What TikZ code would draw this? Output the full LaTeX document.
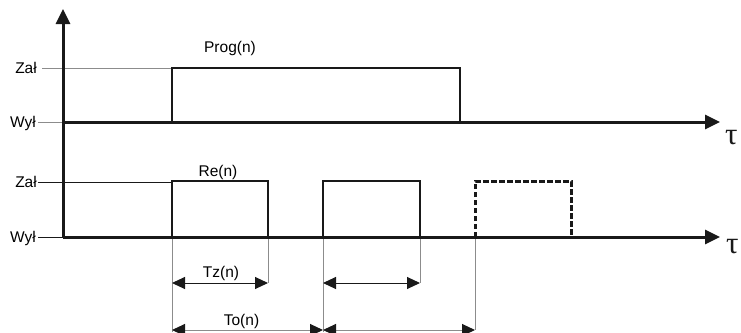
\documentclass[tikz,border=0pt]{standalone}
\usepackage{fontspec}
\setmainfont{Liberation Sans}
\newfontfamily\taufont{Liberation Serif}
\usetikzlibrary{arrows.meta}
\begin{document}
\begin{tikzpicture}[x=1pt,y=-1pt,
  axis/.style={line width=3pt,draw=black!90,-{Triangle[length=15pt,width=14pt]}},
  sig/.style={line width=2pt,draw=black!90},
  dsig/.style={line width=3pt,draw=black!90,dash pattern=on 5.5pt off 2.5pt},
  grayline/.style={line width=1pt,draw=black!45},
  blackline/.style={line width=1pt,draw=black!90},
  dimz/.style={line width=1pt,draw=black!90,{Triangle[length=13pt,width=12pt,color=black!90]}-{Triangle[length=13pt,width=12pt,color=black!90]}},
  dimo/.style={line width=1pt,draw=black!45,{Triangle[length=13pt,width=12pt,color=black!90]}-{Triangle[length=13pt,width=12pt,color=black!90]}},
  lbl/.style={inner sep=0pt,font=\fontsize{15.5}{18}\selectfont,text=black},
  taul/.style={inner sep=0pt,font=\taufont\fontsize{31}{31}\selectfont,text=black!90}
]
\useasboundingbox (0,0) rectangle (741,332);

% key points
\coordinate (top) at (63,9);
\coordinate (o1) at (63,122);
\coordinate (e1) at (720,122);
\coordinate (o2) at (63,237);
\coordinate (e2) at (720,237);

% tick line starts
\coordinate (zu) at (42,68);
\coordinate (wu) at (38,122);
\coordinate (zl) at (38,182);
\coordinate (wl) at (38,237);

% Prog box
\coordinate (p1) at (172,122);
\coordinate (p2) at (172,68);
\coordinate (p3) at (460,68);
\coordinate (p4) at (460,122);

% Re boxes
\coordinate (a1) at (172,237); \coordinate (a2) at (172,181);
\coordinate (a3) at (268,181); \coordinate (a4) at (268,237);
\coordinate (b1) at (323,237); \coordinate (b2) at (323,181);
\coordinate (b3) at (420,181); \coordinate (b4) at (420,237);
\coordinate (c1) at (475,237); \coordinate (c2) at (475,181);
\coordinate (c3) at (571,181); \coordinate (c4) at (571,237);

% extension line ends
\coordinate (xa) at (172,332);
\coordinate (xb) at (268,283);
\coordinate (xc) at (323,332);
\coordinate (xd) at (420,283);
\coordinate (xe) at (475,330);

% dimension arrow ends
\coordinate (tz1) at (172,283); \coordinate (tz2) at (268,283);
\coordinate (tz3) at (323,283); \coordinate (tz4) at (420,283);
\coordinate (to1) at (172,330); \coordinate (to2) at (323,330);
\coordinate (to3) at (475,330);

% ticks
\draw[grayline] (zu) -- (p2);
\draw[grayline] (wu) -- (o1);
\draw[blackline] (zl) -- (a2 |- zl);
\draw[blackline] (wl) -- (o2);

% extension lines
\draw[grayline] (a1) -- (xa);
\draw[grayline] (a4) -- (xb);
\draw[grayline] (b1) -- (xc);
\draw[grayline] (b4) -- (xd);
\draw[grayline] (c1) -- (xe);

% signals
\draw[sig] (p1) -- (p2) -- (p3) -- (p4);
\draw[sig] (a1) -- (a2) -- (a3) -- (a4);
\draw[sig] (b1) -- (b2) -- (b3) -- (b4);
\draw[dsig] (c1) -- (c2) -- (c3) -- (c4);

% axes
\draw[axis] (o2) -- (top);
\draw[axis] (o1) -- (e1);
\draw[axis] (o2) -- (e2);

% dimensions
\draw[dimz] (tz1) -- (tz2);
\draw[dimz] (tz3) -- (tz4);
\draw[dimo] (to1) -- (to2);
\draw[dimo] (to2) -- (to3);

% labels
\node[lbl,anchor=base east] (lzu) at (37,73) {Zał};
\node[lbl,anchor=base east] (lwu) at (36,127) {Wył};
\node[lbl,anchor=base east] (lzl) at (37,187) {Zał};
\node[lbl,anchor=base east] (lwl) at (36,242) {Wył};
\node[lbl,anchor=base] (lprog) at (230,52) {Prog(n)};
\node[lbl,anchor=base] (lre) at (218,176) {Re(n)};
\node[lbl,anchor=base] (ltz) at (221,277) {Tz(n)};
\node[lbl,anchor=base] (lto) at (241.5,325) {To(n)};
\node[taul,anchor=base west] (tau1) at (725,144) {τ};
\node[taul,anchor=base west] (tau2) at (726,253) {τ};
\end{tikzpicture}
\end{document}
